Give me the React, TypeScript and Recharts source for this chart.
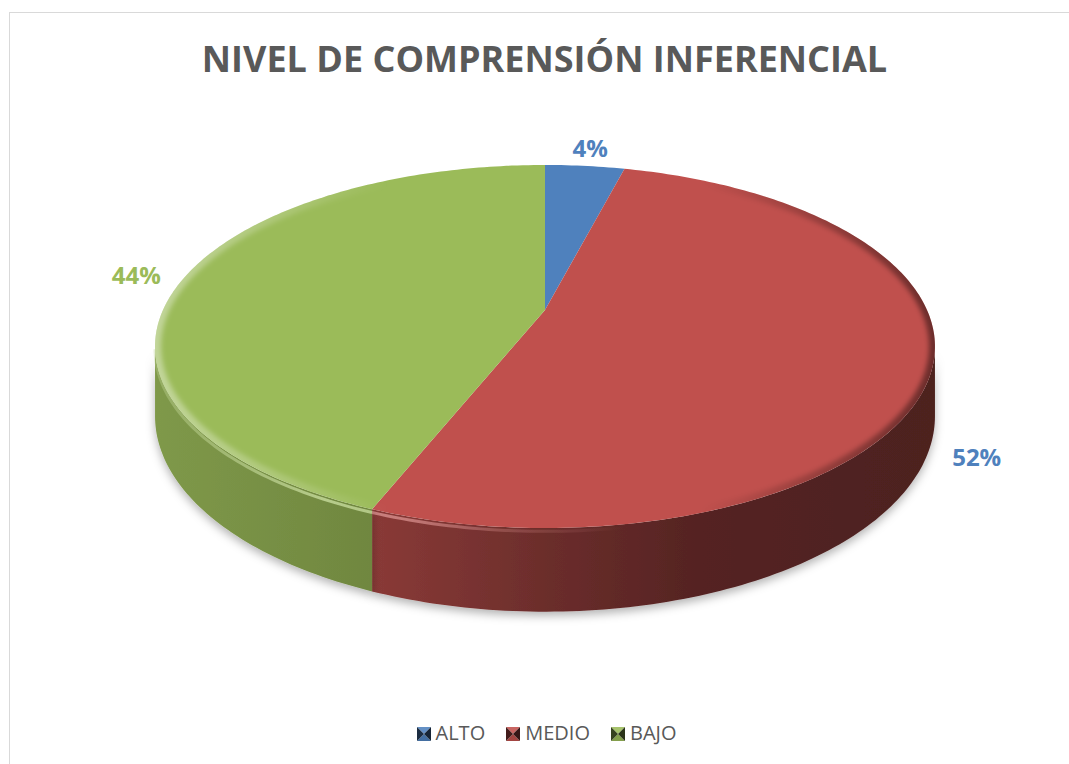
import React from "react";
import { PieChart, Pie, Cell, Legend } from "recharts";

const categories = ["ALTO", "MEDIO", "BAJO"];
const shares = [4, 52, 44];
const sliceColors = ["#4F81BD", "#C0504D", "#9BBB59"];
const labelColors = ["#4F81BD", "#4F81BD", "#9BBB59"];

const data = categories.map((name, i) => ({ name, value: shares[i] }));

// fake 3D: squash of the top face, far side shrink, wall height (all relative to radius)
const TILT = 0.456;
const PERSP = 0.201;
const DEPTH = 0.175;

const rad = (d: number) => (d * Math.PI) / 180;

const project = (cx: number, cy: number, r: number, deg: number, drop = 0) => {
  const u = Math.cos(rad(deg));
  const v = Math.sin(rad(deg));
  const w = 1 + PERSP * v;
  return { x: cx + (r * u) / w, y: cy + (r * (DEPTH * drop - TILT * v)) / w };
};

const arc = (cx: number, cy: number, r: number, from: number, to: number, drop = 0) => {
  const n = Math.max(2, Math.ceil(Math.abs(to - from)));
  const pts: { x: number; y: number }[] = [];
  for (let i = 0; i <= n; i++) pts.push(project(cx, cy, r, from + ((to - from) * i) / n, drop));
  return pts;
};

const toPath = (pts: { x: number; y: number }[], first = "M") =>
  pts.map((p, i) => `${i ? "L" : first}${p.x.toFixed(2)},${p.y.toFixed(2)}`).join(" ");

const shade = (hex: string, f: number) => {
  const n = parseInt(hex.slice(1), 16);
  const ch = [(n >> 16) & 255, (n >> 8) & 255, n & 255].map((c) =>
    Math.round(f <= 1 ? c * f : c + (255 - c) * (f - 1))
  );
  return `rgb(${ch.join(",")})`;
};

const wallStops = [
  [0, 0.82],
  [0.28, 0.72],
  [0.49, 0.57],
  [0.7, 0.44],
  [1, 0.4],
];
const glintStops = [
  [0, 0.35],
  [0.22, 0.9],
  [0.32, 0.8],
  [0.45, 0.3],
  [0.6, 0],
];

const Slice3D = (props: any) => {
  const { cx, cy, outerRadius: r, startAngle, endAngle, fill } = props;
  const id = String(fill).replace("#", "");
  const lo = Math.min(startAngle, endAngle);
  const hi = Math.max(startAngle, endAngle);
  const edge = (Math.asin(PERSP) * 180) / Math.PI;
  const walls: [number, number][] = [];
  for (const k of [-360, 0, 360]) {
    const s = Math.max(lo, -180 + edge + k);
    const e = Math.min(hi, -edge + k);
    if (e > s) walls.push([s, e]);
  }
  const x0 = cx - r * 1.03;
  const x1 = cx + r * 1.03;
  const rim = toPath(arc(cx, cy, r, startAngle, endAngle));
  const face = `M${cx},${cy} ${toPath(arc(cx, cy, r, startAngle, endAngle), "L")} Z`;

  return (
    <g>
      <defs>
        <linearGradient id={`wall-${id}`} gradientUnits="userSpaceOnUse" x1={x0} y1={0} x2={x1} y2={0}>
          {wallStops.map(([o, f]) => (
            <stop key={o} offset={o} stopColor={shade(fill, f)} />
          ))}
        </linearGradient>
        <linearGradient id={`glint-${id}`} gradientUnits="userSpaceOnUse" x1={x0} y1={0} x2={x1} y2={0}>
          {glintStops.map(([o, a]) => (
            <stop key={o} offset={o} stopColor={shade(fill, 1.35)} stopOpacity={a} />
          ))}
        </linearGradient>
        <linearGradient id={`rim-${id}`} gradientUnits="userSpaceOnUse" x1={x0} y1={0} x2={x1} y2={0}>
          <stop offset={0} stopColor="#fff" stopOpacity={0.4} />
          <stop offset={0.3} stopColor="#fff" stopOpacity={0} />
          <stop offset={0.7} stopColor="#000" stopOpacity={0} />
          <stop offset={1} stopColor="#000" stopOpacity={0.45} />
        </linearGradient>
        <filter id={`shadow-${id}`} x="-10%" y="-20%" width="120%" height="160%">
          <feDropShadow dx={0} dy={4} stdDeviation={5} floodColor="#000" floodOpacity={0.3} />
        </filter>
        <filter id={`soft-${id}`} x="-10%" y="-10%" width="120%" height="120%">
          <feGaussianBlur stdDeviation={2.5} />
        </filter>
        <clipPath id={`clip-${id}`}>
          <path d={face} />
        </clipPath>
      </defs>
      {walls.map(([s, e]) => (
        <path
          key={s}
          d={`${toPath(arc(cx, cy, r, s, e))} ${toPath(arc(cx, cy, r, e, s, 1), "L")} Z`}
          fill={`url(#wall-${id})`}
          filter={`url(#shadow-${id})`}
        />
      ))}
      <path d={face} fill={fill} />
      <g clipPath={`url(#clip-${id})`}>
        <path d={rim} fill="none" stroke={`url(#rim-${id})`} strokeWidth={12} filter={`url(#soft-${id})`} />
      </g>
      {walls.map(([s, e]) => (
        <path key={`g${s}`} d={toPath(arc(cx, cy, r, s, e, 0.04))} fill="none" stroke={`url(#glint-${id})`} strokeWidth={3} />
      ))}
    </g>
  );
};

const renderLabel = (props: any) => {
  const { cx, cy, outerRadius: r, midAngle, percent, index } = props;
  const k = 1.13;
  const front = Math.sin(rad(midAngle)) < 0;
  const p = project(cx, cy, r * k, midAngle, front ? 1.15 / k : 0);
  return (
    <text
      x={p.x - (front ? 6 : 0)}
      y={p.y}
      textAnchor="middle"
      dominantBaseline="central"
      fill={labelColors[index]}
      fontSize={24}
      fontWeight={700}
      fontFamily="'Open Sans', sans-serif"
    >
      {`${Math.round(percent * 100)}%`}
    </text>
  );
};

const Marker = ({ color }: { color: string }) => (
  <svg width={14} height={14} style={{ display: "block" }}>
    <polygon points="0,0 14,0 7,7" fill={shade(color, 1.12)} />
    <polygon points="0,14 14,14 7,7" fill={shade(color, 0.85)} />
    <polygon points="0,0 7,7 0,14" fill={shade(color, 0.35)} />
    <polygon points="14,0 7,7 14,14" fill={shade(color, 0.28)} />
  </svg>
);

const renderLegend = (props: any) => {
  const items = [...(props.payload ?? [])].sort(
    (a: any, b: any) => categories.indexOf(a.value) - categories.indexOf(b.value)
  );
  return (
    <div
      style={{
        display: "flex",
        justifyContent: "center",
        alignItems: "center",
        fontFamily: "'Open Sans', sans-serif",
        fontSize: 20,
        color: "#595959",
        lineHeight: "28px",
      }}
    >
      {items.map((item: any) => {
        const i = categories.indexOf(item.value);
        return (
          <div key={item.value} style={{ display: "flex", alignItems: "center", margin: "0 10.5px" }}>
            <div style={{ marginRight: 5, marginTop: 2 }}>
              <Marker color={i >= 0 ? sliceColors[i] : item.color} />
            </div>
            <span>{item.value}</span>
          </div>
        );
      })}
    </div>
  );
};

export default function App() {
  return (
    <div style={{ position: "absolute", left: 0, top: 0, width: 1069, height: 764, overflow: "hidden", background: "#fff" }}>
      <div style={{ position: "absolute", left: 9, top: 12, width: 1100, height: 800, border: "1px solid #D9D9D9" }} />
      <div
        style={{
          position: "absolute",
          left: 0,
          top: 34,
          width: 1089,
          textAlign: "center",
          fontFamily: "'Open Sans', sans-serif",
          fontWeight: 700,
          fontSize: 36,
          lineHeight: "49px",
          color: "#595959",
        }}
      >
        NIVEL DE COMPRENSIÓN INFERENCIAL
      </div>
      <div style={{ position: "absolute", left: 0, top: 0 }}>
        <PieChart width={1069} height={764} margin={{ top: 0, right: 0, bottom: 0, left: 0 }}>
          <Pie
            data={data}
            dataKey="value"
            nameKey="name"
            cx={545}
            cy={310}
            outerRadius={382}
            startAngle={90}
            endAngle={-270}
            stroke="none"
            shape={Slice3D}
            label={renderLabel}
            labelLine={false}
            isAnimationActive={false}
          >
            {data.map((d, i) => (
              <Cell key={d.name} fill={sliceColors[i]} />
            ))}
          </Pie>
          <Legend
            layout="horizontal"
            verticalAlign="middle"
            align="center"
            content={renderLegend}
            wrapperStyle={{ top: 719, left: 0, width: 1093, height: 28 }}
          />
        </PieChart>
      </div>
    </div>
  );
}
